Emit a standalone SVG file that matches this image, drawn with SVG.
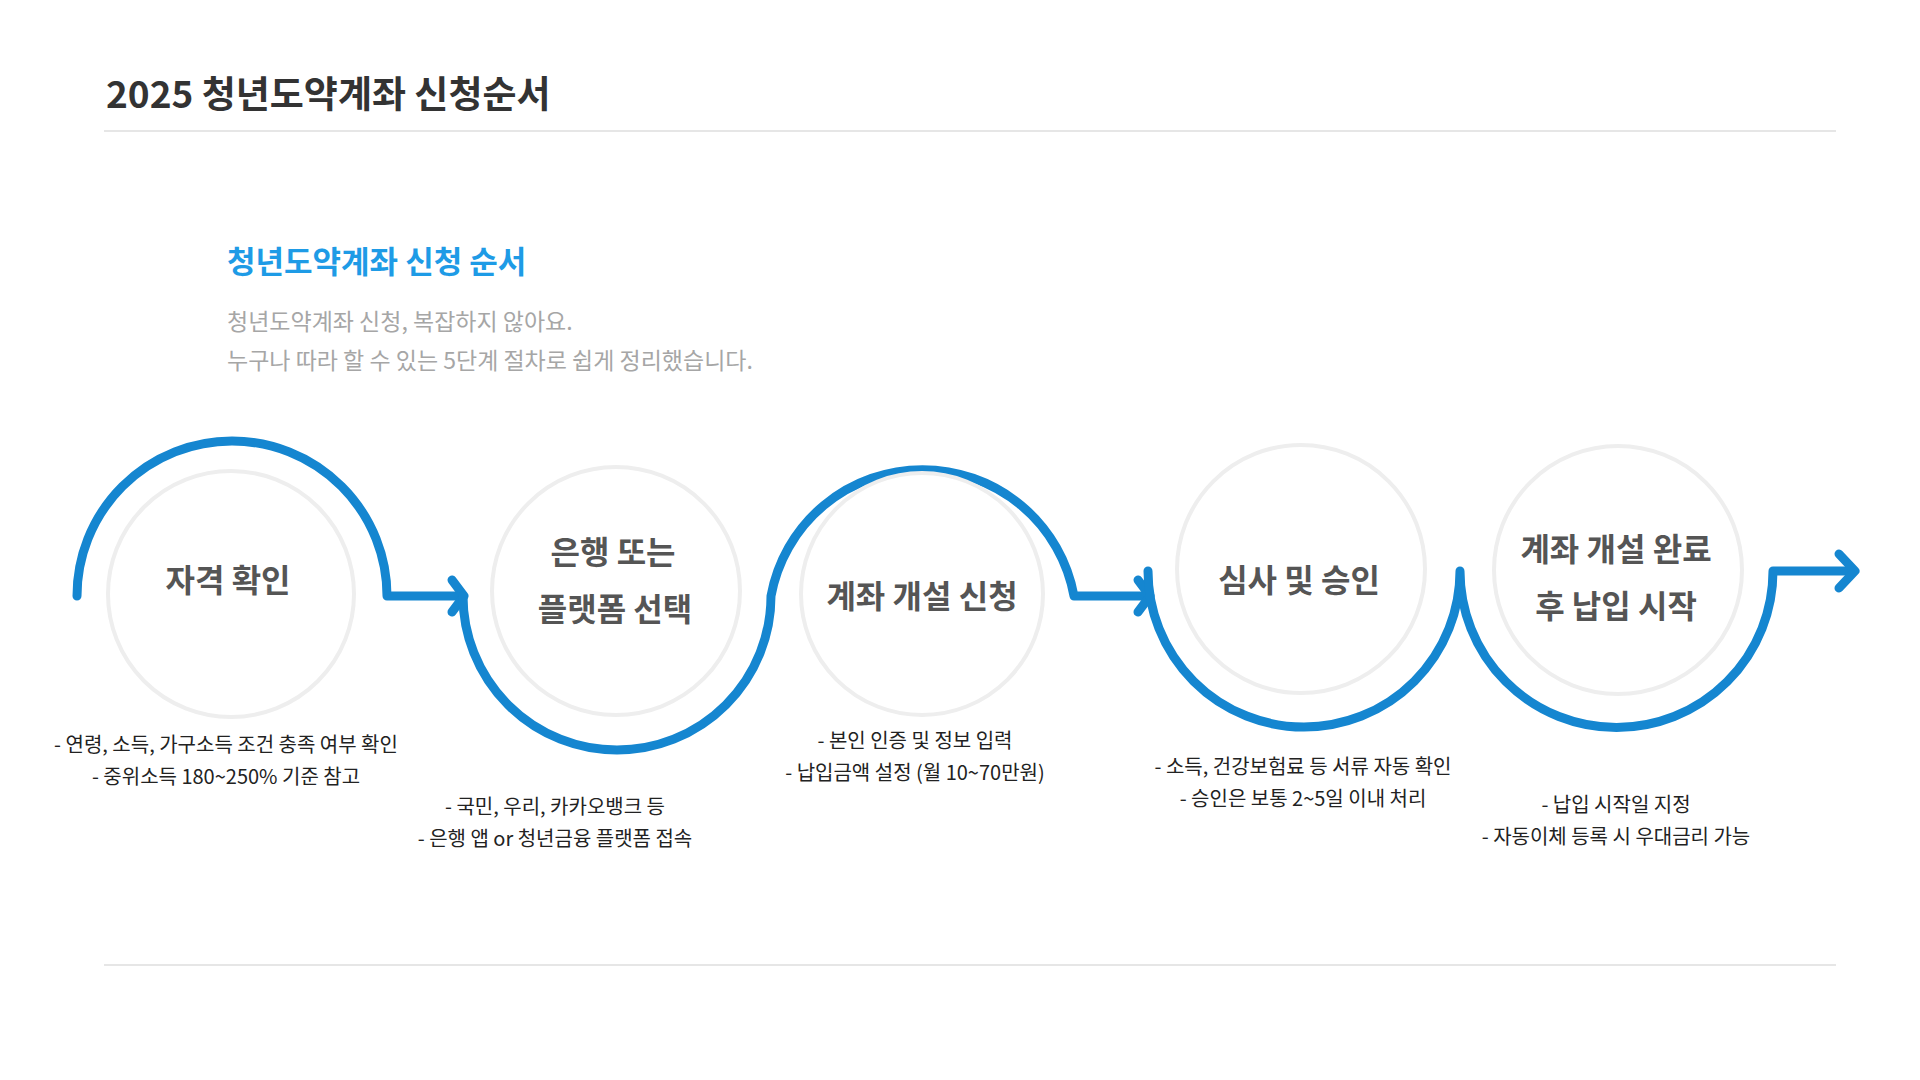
<svg xmlns="http://www.w3.org/2000/svg" width="1920" height="1080" viewBox="0 0 1920 1080">
<style>
text{font-family:"Noto Sans CJK KR","Noto Sans",sans-serif}
.ring{fill:none;stroke:#eeeeee;stroke-width:4}
.lbl{font-size:32px;font-weight:700;fill:#555555;text-anchor:middle}
.desc{font-size:20px;fill:#222222;text-anchor:middle}
.flow{fill:none;stroke:#1586d0;stroke-width:9;stroke-linecap:round;stroke-linejoin:round}
</style>
<rect width="1920" height="1080" fill="#ffffff"/>
<text x="106" y="108" font-size="37" font-weight="700" fill="#333333">2025 청년도약계좌 신청순서</text>
<line x1="104" y1="131" x2="1836" y2="131" stroke="#e6e6e6" stroke-width="2"/>
<line x1="104" y1="965" x2="1836" y2="965" stroke="#e6e6e6" stroke-width="2"/>
<text x="227" y="273" font-size="31" font-weight="700" fill="#1e9be6">청년도약계좌 신청 순서</text>
<text x="227" y="330" font-size="23" fill="#a6a6a6">청년도약계좌 신청, 복잡하지 않아요.</text>
<text x="227" y="369" font-size="23" fill="#a6a6a6">누구나 따라 할 수 있는 5단계 절차로 쉽게 정리했습니다.</text>
<g id="connectors">
<path class="flow" d="M77,596 A155,155 0 0 1 387,596 L462,596"/>
<path class="flow" d="M452,580 L464,596 L452,612"/>
<path class="flow" d="M463,596 A154,154 0 0 0 771,596 A154,154 0 0 1 1074,596 L1148,596"/>
<path class="flow" d="M1138,580 L1150,596 L1138,612"/>
<path class="flow" d="M1148,571 A156,156 0 0 0 1460,571 A156,156 0 0 0 1773,571 L1853,571"/>
<path class="flow" d="M1839,554 L1855,571 L1839,588"/>
</g>
<g id="step1"><circle class="ring" cx="231" cy="594" r="123"/><text class="lbl" x="228" y="592">자격 확인</text>
<text class="desc" x="226" y="752">- 연령, 소득, 가구소득 조건 충족 여부 확인</text><text class="desc" x="226" y="784">- 중위소득 180~250% 기준 참고</text></g>
<g id="step2"><circle class="ring" cx="616" cy="591" r="124"/><text class="lbl" x="613" y="564">은행 또는</text><text class="lbl" x="615" y="621">플랫폼 선택</text>
<text class="desc" x="555" y="814">- 국민, 우리, 카카오뱅크 등</text><text class="desc" x="555" y="846">- 은행 앱 or 청년금융 플랫폼 접속</text></g>
<g id="step3"><circle class="ring" cx="922" cy="594" r="121"/><text class="lbl" x="922" y="608">계좌 개설 신청</text>
<text class="desc" x="915" y="748">- 본인 인증 및 정보 입력</text><text class="desc" x="915" y="780">- 납입금액 설정 (월 10~70만원)</text></g>
<g id="step4"><circle class="ring" cx="1301" cy="569" r="124"/><text class="lbl" x="1299" y="592">심사 및 승인</text>
<text class="desc" x="1303" y="774">- 소득, 건강보험료 등 서류 자동 확인</text><text class="desc" x="1303" y="806">- 승인은 보통 2~5일 이내 처리</text></g>
<g id="step5"><circle class="ring" cx="1618" cy="570" r="124"/><text class="lbl" x="1616" y="561">계좌 개설 완료</text><text class="lbl" x="1616" y="618">후 납입 시작</text>
<text class="desc" x="1616" y="812">- 납입 시작일 지정</text><text class="desc" x="1616" y="844">- 자동이체 등록 시 우대금리 가능</text></g>
</svg>
